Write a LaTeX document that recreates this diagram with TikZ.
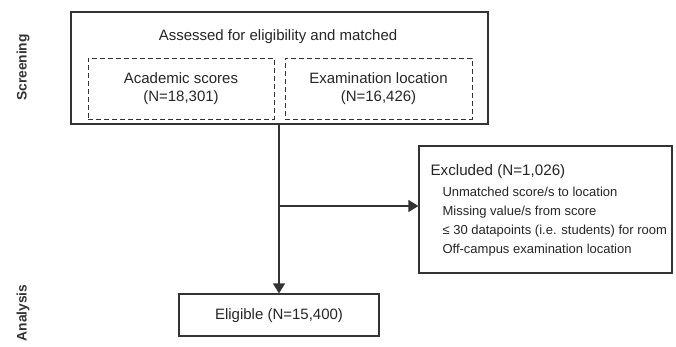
\documentclass[tikz,border=0pt]{standalone}
\usepackage{fontspec}
\setmainfont{Liberation Sans}
\usetikzlibrary{arrows.meta}
\definecolor{ln}{HTML}{333333}
\begin{document}
\begin{tikzpicture}[x=1pt,y=-1pt,
  solidbox/.style={draw=ln,line width=1.2pt,inner sep=0pt},
  dashbox/.style={draw=ln,line width=1pt,dash pattern=on 5pt off 3pt,inner sep=0pt},
  txt/.style={font=\fontsize{15}{17}\selectfont,text=black!85},
  small/.style={font=\fontsize{13}{15}\selectfont,text=black!85},
  side/.style={font=\bfseries\fontsize{13.8}{16}\selectfont,rotate=90,text=black!80},
  conn/.style={draw=ln,line width=1.2pt},
  arr/.style={conn,-{Triangle[length=10pt,width=12pt]}}]
\useasboundingbox (0,0) rectangle (676,346);
\fill[white] (0,0) rectangle (676,346);
% side labels
\node[side] (scr) at (23,67.5) {Screening};
\node[side] (ana) at (23,313) {Analysis};
% outer box
\node[solidbox,minimum width=417pt,minimum height=112pt] (outer) at (279.5,68) {};
\node[txt] (title) at (278,37) {Assessed for eligibility and matched};
\node[dashbox,minimum width=186pt,minimum height=61pt] (acadbox) at (181,88.5) {};
\node[dashbox,minimum width=187pt,minimum height=61pt] (exambox) at (378.5,88.5) {};
\node[txt,align=center] (acad) at (181,88.5) {Academic scores\\[1pt](N=18,301)};
\node[txt,align=center] (exam) at (378.5,88.5) {Examination location\\[1pt](N=16,426)};
% eligible
\node[solidbox,minimum width=200pt,minimum height=42pt] (elig) at (279,315) {};
\node[txt] (eligt) at (279,316) {Eligible (N=15,400)};
% excluded
\node[solidbox,minimum width=253pt,minimum height=127pt] (excl) at (545.5,209.5) {};
\node[txt,font=\fontsize{15.2}{17}\selectfont,anchor=west] (ex0) at (427,172) {Excluded (N=1,026)};
\node[small,anchor=west] (ex1) at (439,192) {Unmatched score/s to location};
\node[small,anchor=west] (ex2) at (439,212) {Missing value/s from score};
\node[small,anchor=west] (ex3) at (439,231) {≤ 30 datapoints (i.e. students) for room};
\node[small,anchor=west] (ex4) at (439,250) {Off-campus examination location};
% connectors
\coordinate (br) at (279,206);
\draw[arr] (outer.south -| elig.north) -- (elig.north);
\draw[arr] (br) -- (excl.west |- br);
\end{tikzpicture}
\end{document}
